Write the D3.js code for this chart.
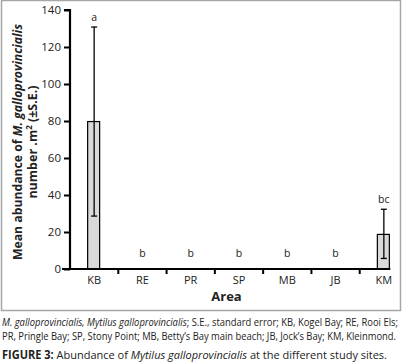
<!DOCTYPE html>
<html>
<head>
<meta charset="utf-8">
<script src="https://cdn.jsdelivr.net/npm/d3@7"></script>
<style>
  html, body { margin: 0; padding: 0; background: #fff; }
  svg { display: block; font-family: 'Open Sans', 'Noto Sans', sans-serif; }
</style>
</head>
<body>
<div id="chart"></div>
<script>
// Mean abundance of M. galloprovincialis per site (number per m², ± S.E.)
const areas   = ['KB', 'RE', 'PR', 'SP', 'MB', 'JB', 'KM'];
const means   = [79.7, 0, 0, 0, 0, 0, 18.7];
const seLow   = [51.1, 0, 0, 0, 0, 0, 13.0];
const seHigh  = [51.1, 0, 0, 0, 0, 0, 13.6];
const letters = ['a', 'b', 'b', 'b', 'b', 'b', 'bc'];
const yTicks  = [0, 20, 40, 60, 80, 100, 120, 140];

const W = 403, H = 363;
const plot = { left: 70, right: 408, top: 10, bottom: 269 };

const svg = d3.select('#chart').append('svg')
  .attr('width', W).attr('height', H);

// figure frame
svg.append('rect')
  .attr('x', 1.5).attr('y', 0.5).attr('width', 399).attr('height', 310)
  .attr('fill', 'none').attr('stroke', '#a6a6a6').attr('stroke-width', 1.5);

const x = d3.scaleBand().domain(areas).range([plot.left, plot.right]).padding(0);
const y = d3.scaleLinear().domain([0, 140]).range([plot.bottom, plot.top]);
const barW = 12;

// bars
const rows = areas.map((a, i) => ({ a, m: means[i], lo: seLow[i], hi: seHigh[i], l: letters[i] }));

svg.selectAll('.bar').data(rows.filter(d => d.m > 0)).enter().append('rect')
  .attr('x', d => x(d.a) + x.bandwidth() / 2 - barW / 2 - 0.5)
  .attr('y', d => y(d.m))
  .attr('width', barW)
  .attr('height', d => y(0) - y(d.m))
  .attr('fill', '#d9d9d9').attr('stroke', '#000').attr('stroke-width', 1.2);

// error bars
const eb = svg.selectAll('.eb').data(rows.filter(d => d.m > 0)).enter().append('g')
  .attr('stroke', '#000').attr('stroke-width', 1.3);
eb.append('line')
  .attr('x1', d => x(d.a) + x.bandwidth() / 2).attr('x2', d => x(d.a) + x.bandwidth() / 2)
  .attr('y1', d => y(d.m - d.lo)).attr('y2', d => y(d.m + d.hi));
[d => d.m - d.lo, d => d.m + d.hi].forEach(f => {
  eb.append('line')
    .attr('x1', d => x(d.a) + x.bandwidth() / 2 - 3).attr('x2', d => x(d.a) + x.bandwidth() / 2 + 3)
    .attr('y1', d => y(f(d))).attr('y2', d => y(f(d)));
});

// significance letters
svg.selectAll('.lt').data(rows).enter().append('text')
  .attr('x', d => x(d.a) + x.bandwidth() / 2)
  .attr('y', d => d.m > 0 ? y(d.m + d.hi) - 6 : y(0) - 12)
  .attr('text-anchor', 'middle').attr('font-size', 10.5).attr('fill', '#222')
  .text(d => d.l);

// y axis
const yAxis = svg.append('g').attr('transform', `translate(${plot.left},0)`)
  .call(d3.axisLeft(y).tickValues(yTicks).tickSize(6).tickPadding(3));
yAxis.select('.domain').attr('stroke-width', 2.2).attr('d', `M-6,${plot.top}H0V${plot.bottom}`);
yAxis.selectAll('.tick line').attr('stroke-width', 2);
yAxis.selectAll('text').attr('font-size', 11.5).attr('fill', '#222').attr('font-family', "'Open Sans', sans-serif");

// x axis
const xAxis = svg.append('g').attr('transform', `translate(0,${plot.bottom})`);
xAxis.append('line')
  .attr('x1', plot.left - 8).attr('x2', x('KM') + x.bandwidth() / 2 + barW / 2 + 0.5)
  .attr('y1', 0).attr('y2', 0).attr('stroke', '#000').attr('stroke-width', 2.2);
xAxis.selectAll('.xt').data(areas.slice(1)).enter().append('line')
  .attr('x1', d => x(d)).attr('x2', d => x(d))
  .attr('y1', 0).attr('y2', 5).attr('stroke', '#000').attr('stroke-width', 2);
xAxis.selectAll('.xl').data(areas).enter().append('text')
  .attr('x', d => x(d) + x.bandwidth() / 2).attr('y', 15)
  .attr('text-anchor', 'middle').attr('font-size', 11).attr('fill', '#222')
  .text(d => d);

// axis titles
svg.append('text')
  .attr('x', (plot.left + 389) / 2 - 3).attr('y', 301)
  .attr('text-anchor', 'middle').attr('font-size', 13).attr('font-weight', 'bold').attr('fill', '#222')
  .text('Area');

const yt = svg.append('g').attr('transform', 'translate(0,142) rotate(-90)')
  .attr('font-size', 12.5).attr('font-weight', 'bold').attr('fill', '#222').attr('text-anchor', 'middle');
const t1 = yt.append('text').attr('x', 0).attr('y', 22).attr('textLength', 236).attr('lengthAdjust', 'spacingAndGlyphs');
t1.append('tspan').text('Mean abundance of ');
t1.append('tspan').attr('font-style', 'italic').text('M. galloprovincialis');
const t2 = yt.append('text').attr('x', 0).attr('y', 37);
t2.append('tspan').text('number .m');
t2.append('tspan').attr('font-size', 8).attr('dy', -5).text('2');
t2.append('tspan').attr('dy', 5).text(' (±S.E.)');

// caption
const cap = svg.append('g').attr('fill', '#222').attr('font-size', 10.2);
const c1 = cap.append('text').attr('x', 2).attr('y', 326).attr('textLength', 396).attr('lengthAdjust', 'spacingAndGlyphs');
c1.append('tspan').attr('font-style', 'italic').text('M. galloprovincialis, Mytilus galloprovincialis');
c1.append('tspan').text('; S.E., standard error; KB, Kogel Bay; RE, Rooi Els;');
cap.append('text').attr('x', 2).attr('y', 340).attr('textLength', 394).attr('lengthAdjust', 'spacingAndGlyphs')
  .text('PR, Pringle Bay; SP, Stony Point; MB, Betty\u2019s Bay main beach; JB, Jock\u2019s Bay; KM, Kleinmond.');
const c3 = svg.append('text').attr('x', 2).attr('y', 359).attr('font-size', 11.5).attr('fill', '#222')
  .attr('textLength', 385).attr('lengthAdjust', 'spacingAndGlyphs');
c3.append('tspan').attr('font-weight', 'bold').text('FIGURE 3:');
c3.append('tspan').text(' Abundance of ');
c3.append('tspan').attr('font-style', 'italic').text('Mytilus galloprovincialis');
c3.append('tspan').text(' at the different study sites.');
</script>
</body>
</html>
